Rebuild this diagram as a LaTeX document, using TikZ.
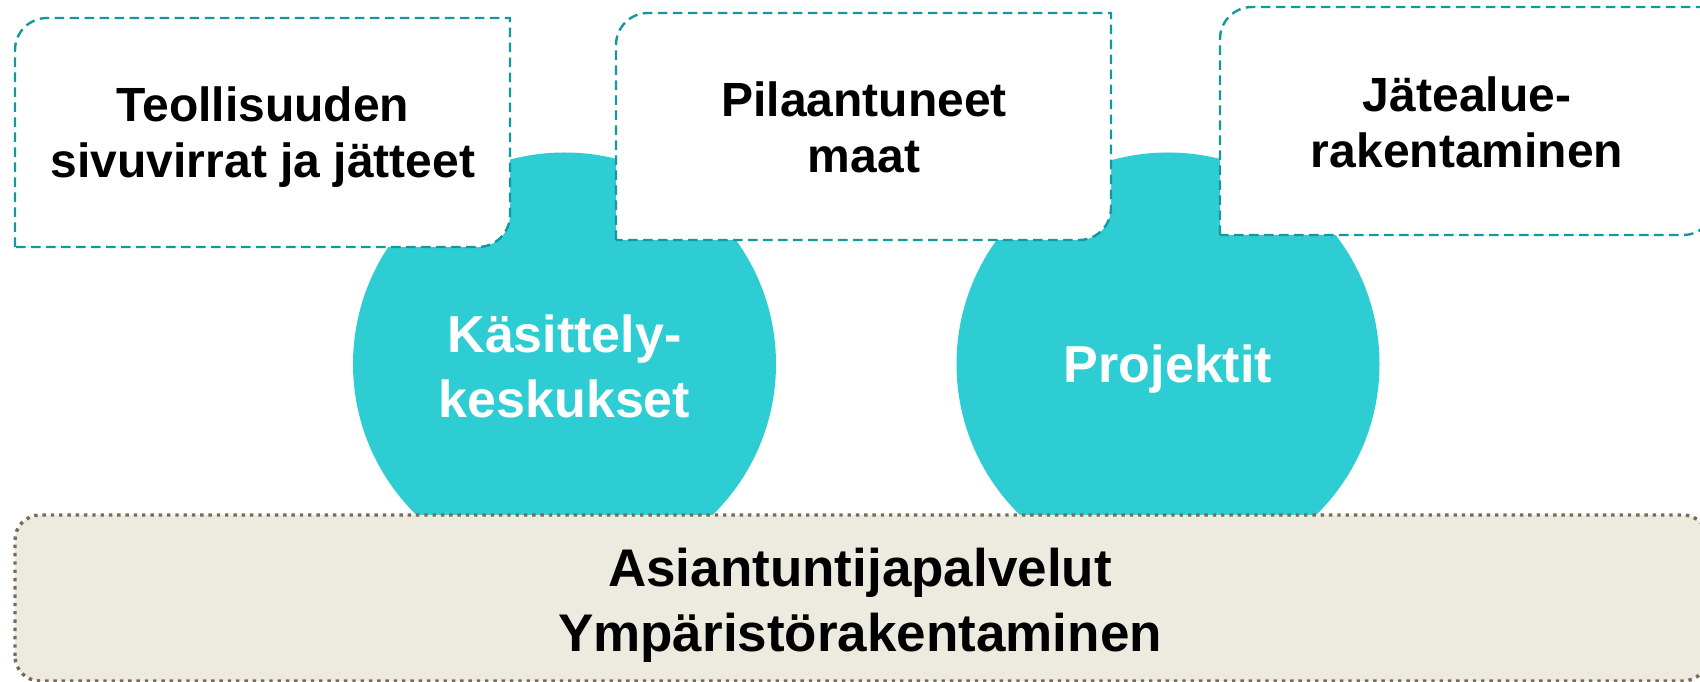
\documentclass[tikz,border=0pt]{standalone}
\usepackage{fontspec}
\setmainfont{Liberation Sans}
\usepackage{tikz}
\definecolor{tealfill}{RGB}{46,204,211}
\definecolor{tealline}{RGB}{18,152,160}
\definecolor{sandfill}{RGB}{237,235,224}
\definecolor{sandline}{RGB}{122,106,90}

\begin{document}
\begin{tikzpicture}[x=1pt,y=1pt,
        bowl/.style={fill=tealfill},
        tab/.style={draw=tealline, fill=white, line width=2.4pt, dash pattern=on 9.5pt off 5.5pt},
        groundbox/.style={draw=sandline, fill=sandfill, line width=3.4pt, dash pattern=on 3.4pt off 4.9pt, rounded corners=25pt},
        tabtext/.style={font=\fontsize{48}{56}\selectfont\bfseries, align=center},
        bowltext/.style={font=\fontsize{52}{65}\selectfont\bfseries, align=center, text=white},
        groundtext/.style={font=\fontsize{53}{65}\selectfont\bfseries, align=center}]
        \useasboundingbox (0,0) rectangle (1700,682);
        \fill [bowl] (564.5,318) circle [radius=211.5];
        \fill [bowl] (1168,318) circle [radius=211.5];
        \foreach \l/\t/\b in {15/664/435, 616/669/442, 1220/675/447}
            \draw [tab] (\l,\b) --(\l,\t-32) arc [start angle=180, end angle=90, radius=32] --(\l+495,\t) --(\l+495,\b+32) arc [start angle=0, end angle=-90, radius=32] --cycle;
        \draw [groundbox] (15,1) rectangle (1708,167);
        \node [tabtext] (industry) at (263,544.5) {Teollisuuden\\sivuvirrat ja jätteet};
        \node [tabtext] (soil) at (864,555) {Pilaantuneet\\maat};
        \node [tabtext] (landfill) at (1467,559.5) {Jätealue-\\rakentaminen};
        \node [bowltext] (centres) at (564.5,316) {Käsittely-\\keskukset};
        \node [bowltext] (projects) at (1168,312.5) {Projektit};
        \node [groundtext] (expert) at (860,77) {Asiantuntijapalvelut\\Ympäristörakentaminen};
    \end{tikzpicture}
\end{document}
